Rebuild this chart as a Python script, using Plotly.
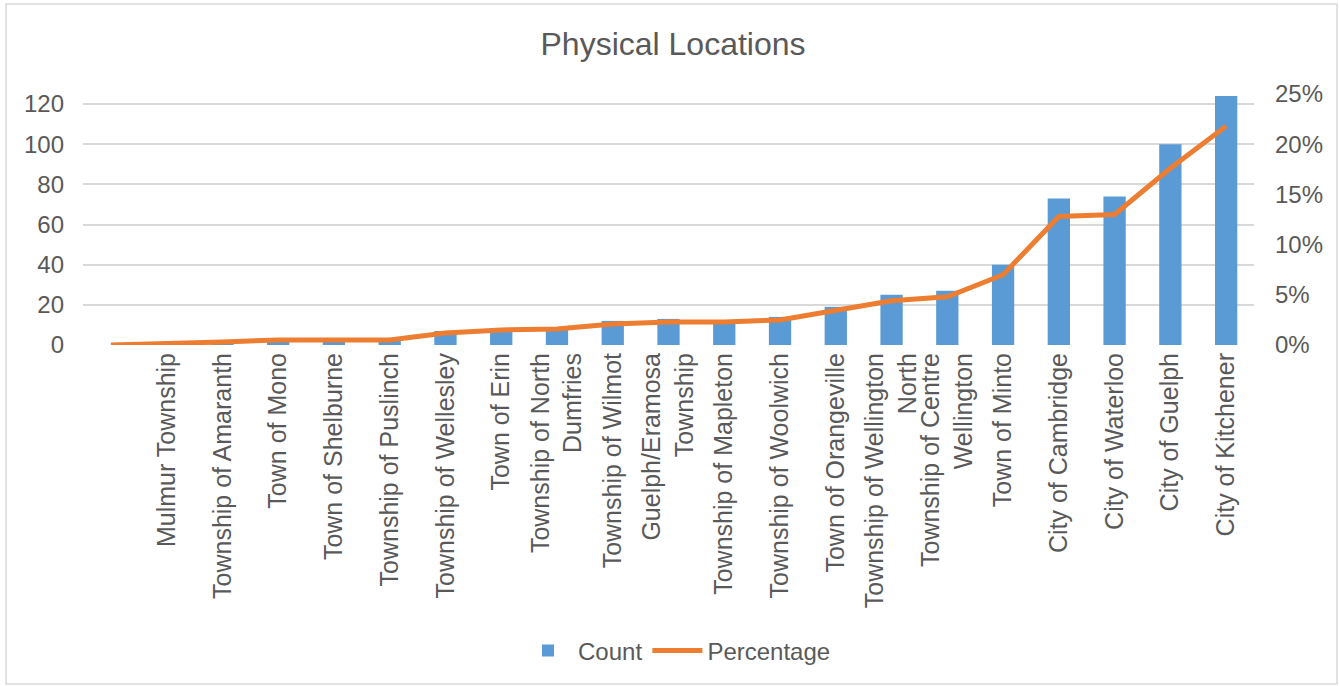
import plotly.graph_objects as go

categories = [
    " ",
    "Mulmur Township",
    "Township of Amaranth",
    "Town of Mono",
    "Town of Shelburne",
    "Township of Puslinch",
    "Township of Wellesley",
    "Town of Erin",
    "Township of North<br>Dumfries",
    "Township of Wilmot",
    "Guelph/Eramosa<br>Township",
    "Township of Mapleton",
    "Township of Woolwich",
    "Town of Orangeville",
    "Township of Wellington<br>North",
    "Township of Centre<br>Wellington",
    "Town of Minto",
    "City of Cambridge",
    "City of Waterloo",
    "City of Guelph",
    "City of Kitchener",
]
counts = [None, 0, 1, 3, 3, 3, 7, 8, 8, 12, 13, 12, 14, 19, 25, 27, 40, 73, 74, 100, 124]
percentages = [0.0, 0.001, 0.003, 0.005, 0.005, 0.005, 0.012, 0.015, 0.016, 0.021, 0.023, 0.023,
               0.025, 0.034, 0.044, 0.048, 0.070, 0.128, 0.130, 0.176, 0.218]
left_ticks = [0, 20, 40, 60, 80, 100, 120]
right_ticks = [0, 0.05, 0.10, 0.15, 0.20, 0.25]

FONT = "Liberation Sans, Arial, sans-serif"
GREY = "#595959"

fig = go.Figure()
fig.add_trace(go.Bar(x=categories, y=counts, name="Count", marker_color="#5b9bd5",
                     marker_line_width=0))
fig.add_trace(go.Scatter(x=categories, y=percentages, name="Percentage", mode="lines",
                         line=dict(color="#ed7d31", width=5), yaxis="y2"))

W, H = 1339, 686
L, R, T, B = 83, 1254, 94, 345
pw, ph = R - L, B - T

def px(x):
    return (x - L) / pw

def py(y):
    return (B - y) / ph

fig.update_layout(
    width=W, height=H,
    margin=dict(l=L, r=W - R, t=T, b=H - B, pad=0),
    paper_bgcolor="white", plot_bgcolor="white",
    font=dict(family=FONT, color=GREY, size=24),
    title=dict(text="Physical Locations", x=673 / W, xanchor="center",
               y=1 - 44 / H, yanchor="middle", font=dict(size=32, color=GREY)),
    bargap=0.6,
    showlegend=True,
    legend=dict(orientation="h", x=px(677), xanchor="center", y=py(651), yanchor="middle",
                font=dict(size=24, color=GREY), itemwidth=50, traceorder="normal"),
    xaxis=dict(type="category", tickangle=-90, showgrid=False, showline=False,
               ticks="", tickfont=dict(size=25, color=GREY), ticklabelstandoff=2),
    yaxis=dict(range=[0, 125], tickvals=left_ticks, showgrid=True, gridcolor="#d9d9d9",
               gridwidth=1.5, zeroline=False, showline=False, ticks="",
               tickfont=dict(size=24, color=GREY), ticklabelstandoff=18),
    yaxis2=dict(range=[0, 0.25], tickvals=right_ticks, tickformat=".0%", overlaying="y",
                side="right", showgrid=False, zeroline=False, showline=False, ticks="",
                tickfont=dict(size=24, color=GREY), ticklabelstandoff=20),
    shapes=[dict(type="rect", xref="paper", yref="paper",
                 x0=px(6), x1=px(1337), y0=py(684), y1=py(4),
                 line=dict(color="#d9d9d9", width=1.5), fillcolor="rgba(0,0,0,0)",
                 layer="below")],
)

fig.write_html("out.html", config={"displayModeBar": False},
               post_script="document.body.style.margin='0';document.body.style.overflow='hidden';")
